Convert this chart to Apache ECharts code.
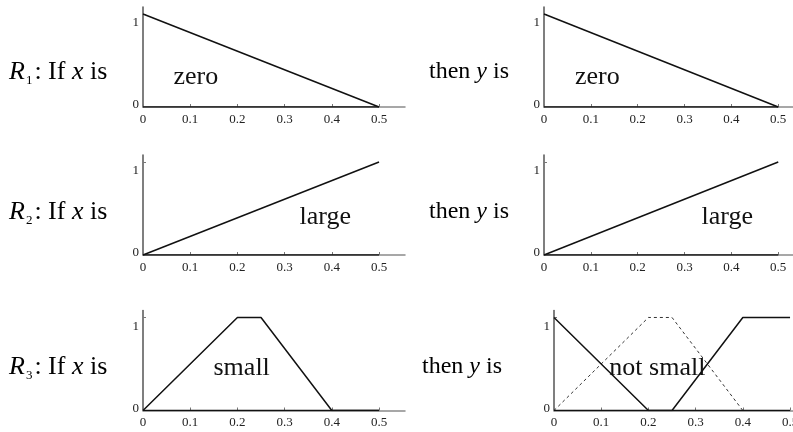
<!DOCTYPE html>
<html>
<head>
<meta charset="utf-8">
<script src="https://cdn.jsdelivr.net/npm/echarts@6/dist/echarts.min.js"></script>
<style>
  html, body { margin: 0; padding: 0; background: #fff; }
  #chart { width: 793px; height: 432px; }
</style>
</head>
<body>
<div id="chart"></div>
<script>
// Fuzzy rule base: membership functions of the antecedent (x) and consequent (y)
const xTickValues = [0, 0.1, 0.2, 0.3, 0.4, 0.5];
const yTickValues = [0, 1];

const zeroX = [0, 0.5];
const zeroY = [1, 0];
const largeX = [0, 0.5];
const largeY = [0, 1];
const smallX = [0, 0.2, 0.25, 0.4, 0.5];
const smallY = [0, 1, 1, 0, 0];
const notSmallX = [0, 0.2, 0.25, 0.4, 0.5];
const notSmallY = [1, 0, 0, 1, 1];
const baseX = [0, 0.5];
const baseY = [0, 0];

const ruleNumbers = ['1', '2', '3'];
const setNames = ['zero', 'large', 'small', 'not small'];

const serif = '"Liberation Serif", "DejaVu Serif", serif';
const ink = '#111';

function pairs(xs, ys) { return xs.map((x, i) => [x, ys[i]]); }

// panel layout: [left, top, width, height]
const panels = [
  [143, 7, 262, 100], [544, 7, 260, 100],
  [143, 155, 262, 100], [544, 155, 260, 100],
  [143, 310.5, 262, 100], [554, 310.5, 262, 100]
];

const grids = panels.map(p => ({
  left: p[0], top: p[1], width: p[2], height: p[3],
  outerBoundsMode: 'none', containLabel: false
}));

const xAxes = panels.map((p, i) => ({
  type: 'value', gridIndex: i, min: 0, max: 0.555,
  axisLine: { show: true, onZero: false, lineStyle: { color: '#8a8a8a', width: 1.5 } },
  axisTick: { show: true, inside: true, length: 3, customValues: xTickValues,
              lineStyle: { color: '#777', width: 1 } },
  axisLabel: { show: true, customValues: xTickValues, margin: 6,
               fontFamily: serif, fontSize: 13, color: '#222',
               formatter: v => String(v) },
  splitLine: { show: false }
}));

const yAxes = panels.map((p, i) => ({
  type: 'value', gridIndex: i, min: 0, max: 1.075,
  axisLine: { show: true, onZero: false, lineStyle: { color: '#555', width: 1.5 } },
  axisTick: { show: true, inside: true, length: 3, customValues: [1],
              lineStyle: { color: '#777', width: 1 } },
  axisLabel: { show: true, customValues: yTickValues, margin: 4,
               fontFamily: serif, fontSize: 13, color: '#222',
               formatter: v => (v === 1 ? '{hi|1}' : '{lo|0}'),
               rich: {
                 hi: { fontFamily: serif, fontSize: 13, color: '#222', padding: [18, 0, 0, 0] },
                 lo: { fontFamily: serif, fontSize: 13, color: '#222', padding: [0, 0, 4, 0] }
               } },
  splitLine: { show: false }
}));

function line(idx, xs, ys, dashed) {
  return {
    type: 'line', xAxisIndex: idx, yAxisIndex: idx,
    data: pairs(xs, ys), showSymbol: false, silent: true, animation: false,
    lineStyle: dashed ? { color: '#333', width: 1, type: [3, 3] }
                      : { color: ink, width: 1.5 },
    z: dashed ? 3 : 4
  };
}

function setLabel(idx, name, pos) {
  return {
    type: 'scatter', xAxisIndex: idx, yAxisIndex: idx, silent: true, animation: false,
    symbolSize: 0, z: 10,
    itemStyle: { color: ink, opacity: 1 },
    data: [{ value: pos, name: name }],
    label: { show: true, position: [0, 0], align: 'center', verticalAlign: 'middle',
             formatter: '{b}', fontFamily: serif, fontSize: 26, color: ink,
             textBorderWidth: 0, opacity: 1 }
  };
}

// anchor points (data units) for the set names inside each panel
const labelAnchors = [[0.112, 0.32], [0.114, 0.32], [0.386, 0.41], [0.391, 0.41], [0.209, 0.45], [0.219, 0.45]];
const labelNames = [setNames[0], setNames[0], setNames[1], setNames[1], setNames[2], setNames[3]];

const series = [];
for (let i = 0; i < 6; i++) series.push(line(i, baseX, baseY, false));
series.push(line(0, zeroX, zeroY), line(1, zeroX, zeroY));
series.push(line(2, largeX, largeY), line(3, largeX, largeY));
series.push(line(4, smallX, smallY));
series.push(line(5, smallX, smallY, true), line(5, notSmallX, notSmallY));
for (let i = 0; i < 6; i++) series.push(setLabel(i, labelNames[i], labelAnchors[i]));

function richText(size) {
  return {
    it: { fontFamily: serif, fontStyle: 'italic', fontSize: size, color: ink, lineHeight: 30 },
    rm: { fontFamily: serif, fontSize: size, color: ink, lineHeight: 30 },
    sub: { fontFamily: serif, fontSize: 13, color: ink, lineHeight: 30, verticalAlign: 'bottom',
           padding: [0, 2, 0, 1] }
  };
}

const ruleRows = [72, 212, 367];
const thenLeft = [429, 429, 422];
const graphics = [];
ruleRows.forEach((y, r) => {
  graphics.push({
    type: 'text', x: 9, y: y, silent: true,
    style: { text: '{it|R}{sub|' + ruleNumbers[r] + '}{rm|: If }{it|x}{rm| is}',
             rich: richText(26), verticalAlign: 'middle', align: 'left' }
  });
  graphics.push({
    type: 'text', x: thenLeft[r], y: y, silent: true,
    style: { text: '{rm|then }{it|y}{rm| is}',
             rich: richText(24), verticalAlign: 'middle', align: 'left' }
  });
});

const chart = echarts.init(document.getElementById('chart'), null, { renderer: 'canvas' });
chart.setOption({
  backgroundColor: '#fff',
  animation: false,
  grid: grids,
  xAxis: xAxes,
  yAxis: yAxes,
  series: series,
  graphic: graphics
});
</script>
</body>
</html>
